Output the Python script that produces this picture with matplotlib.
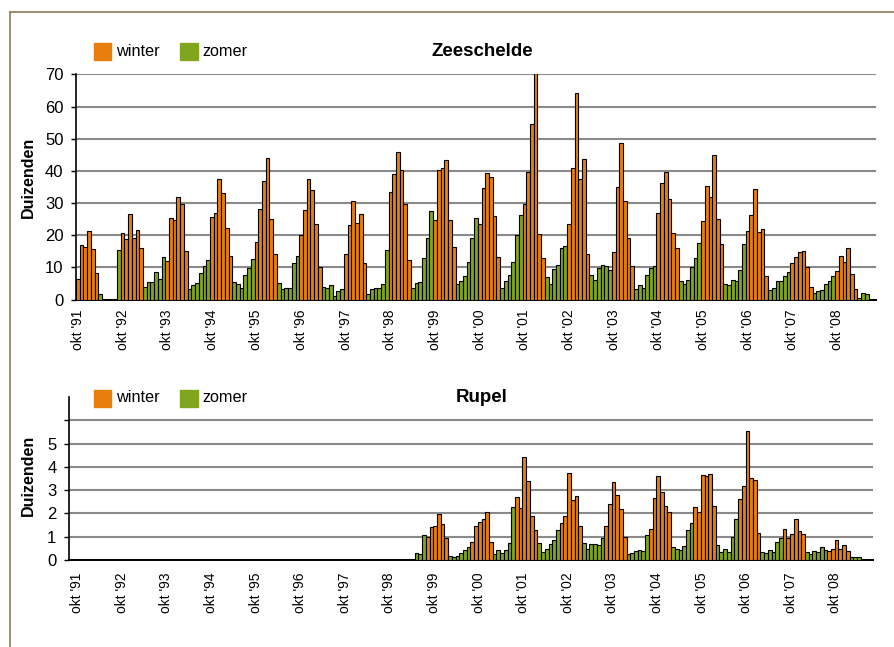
import numpy as np
import matplotlib
matplotlib.use("Agg")
import matplotlib.pyplot as plt
from matplotlib.patches import Rectangle
from matplotlib.lines import Line2D

plt.rcParams['font.family'] = ['Liberation Sans', 'DejaVu Sans']

nan = np.nan

# monthly values (duizenden), one row per season okt -> sep, starting okt '91
zeeschelde = [
    6.5, 17.1, 16.3, 21.2, 15.6, 8.3, 1.7, nan, nan, nan, nan, 15.4,
    20.7, 18.8, 26.6, 19.3, 21.7, 15.9, 4.0, 5.4, 5.6, 8.6, 6.5, 13.1,
    12.1, 25.3, 24.8, 31.8, 29.6, 15.1, 3.2, 4.5, 5.3, 8.4, 10.3, 12.2,
    25.8, 27.0, 37.5, 33.2, 22.3, 13.5, 5.5, 4.8, 3.7, 7.8, 9.7, 12.7,
    17.9, 28.3, 37.0, 44.1, 25.0, 14.2, 5.2, 3.2, 3.7, 3.5, 11.4, 13.4,
    20.0, 27.8, 37.5, 34.2, 23.5, 10.2, 4.0, 3.7, 4.4, 1.0, 2.7, 3.2,
    14.3, 23.1, 30.6, 23.9, 26.6, 11.3, 1.8, 3.2, 3.7, 3.5, 4.7, 15.5,
    33.5, 38.9, 46.0, 40.4, 29.7, 12.4, 3.6, 5.1, 5.5, 13.0, 19.3, 27.4,
    24.8, 40.2, 40.9, 43.5, 24.7, 16.4, 4.8, 5.7, 7.4, 11.8, 19.2, 25.5,
    23.5, 34.8, 39.4, 38.1, 25.9, 13.1, 3.6, 5.8, 7.5, 11.8, 20.1, 26.4,
    29.8, 39.7, 54.5, 72.0, 20.4, 13.0, 7.0, 4.9, 9.6, 10.9, 15.9, 16.7,
    23.4, 40.8, 64.2, 37.5, 43.6, 14.1, 7.6, 6.0, 9.7, 10.6, 10.4, 9.2,
    14.7, 35.0, 48.7, 30.5, 19.1, 10.4, 3.2, 4.6, 3.6, 7.5, 9.9, 10.5,
    26.9, 36.1, 39.7, 31.4, 20.8, 15.9, 5.7, 4.7, 6.0, 10.0, 12.8, 17.7,
    24.4, 35.4, 32.0, 44.8, 25.2, 17.2, 4.8, 4.5, 6.1, 5.7, 9.2, 17.4,
    21.4, 26.2, 34.3, 21.0, 21.8, 7.4, 3.1, 3.6, 5.8, 5.9, 7.2, 8.6,
    11.5, 13.3, 14.7, 15.1, 10.2, 3.9, 1.9, 2.6, 3.1, 4.8, 5.9, 7.4,
    8.9, 13.6, 11.7, 16.0, 8.0, 3.4, 0.6, 2.1, 1.6,
]

# Rupel: no counts before jul '99
rupel_start = 93
rupel = [
    0.29, 0.27, 1.09,
    0.97, 1.41, 1.46, 1.99, 1.53, 0.93, 0.16, 0.13, 0.17, 0.29, 0.41, 0.56,
    0.77, 1.46, 1.63, 1.77, 2.04, 0.76, 0.26, 0.44, 0.29, 0.43, 0.71, 2.26,
    2.70, 2.24, 4.44, 3.39, 1.91, 1.29, 0.74, 0.33, 0.46, 0.70, 0.86, 1.27,
    1.61, 1.90, 3.73, 2.59, 2.73, 1.46, 0.71, 0.47, 0.67, 0.67, 0.64, 0.96,
    1.46, 2.39, 3.34, 2.79, 2.20, 0.99, 0.26, 0.31, 0.37, 0.42, 0.37, 1.09,
    1.34, 2.67, 3.60, 2.94, 2.33, 2.07, 0.57, 0.47, 0.41, 0.60, 1.30, 1.57,
    2.29, 2.06, 3.67, 3.60, 3.69, 2.30, 0.64, 0.36, 0.47, 0.36, 0.97, 1.76,
    2.64, 3.17, 5.53, 3.54, 3.43, 1.17, 0.33, 0.29, 0.43, 0.33, 0.77, 0.94,
    1.33, 0.93, 1.13, 1.77, 1.26, 1.11, 0.33, 0.26, 0.39, 0.36, 0.54, 0.44,
    0.39, 0.47, 0.84, 0.47, 0.66, 0.39, 0.11, 0.11, 0.13,
]

tick_labels = ["okt '%02d" % (y % 100) for y in range(1991, 2009)]
n_months = 215  # okt '91 .. aug '09

c_winter = '#E87F0C'
c_zomer = '#80A51E'

W, H = 895, 647
fig = plt.figure(figsize=(W / 100, H / 100), dpi=100)


def box(l, r, t, b):
    return [l / W, 1 - b / H, (r - l) / W, (b - t) / H]


def season_colors(idx):
    # month 0 = oktober; okt..mrt winter, apr..sep zomer
    return [c_winter if (i % 12) < 6 else c_zomer for i in idx]


def draw(ax, start, vals):
    vals = np.array(vals, dtype=float)
    idx = np.arange(start, start + len(vals))
    ok = ~np.isnan(vals)
    ax.bar(idx[ok], vals[ok], width=1.0, color=season_colors(idx[ok]),
           edgecolor='black', linewidth=0.8, zorder=3)
    ax.set_axisbelow(True)
    ax.grid(axis='y', color='#8a8a8a', linewidth=1.5)
    for s in ['top', 'right']:
        ax.spines[s].set_visible(False)
    ax.spines['left'].set_linewidth(1.2)
    ax.spines['bottom'].set_linewidth(1.4)
    ax.tick_params(axis='x', length=0, pad=7, labelsize=10)
    ax.tick_params(axis='y', length=3.5, width=1, direction='out', pad=5.5, labelsize=12)


# Zeeschelde
ax1 = fig.add_axes(box(76, 876, 74.4, 299.6))
draw(ax1, 0, zeeschelde)
ax1.set_xlim(-0.5, n_months - 0.5)
ax1.set_ylim(0, 70)
ax1.set_yticks(range(0, 71, 10))
ax1.set_xticks(np.arange(0, 205, 12))
ax1.set_xticklabels(tick_labels, rotation=90)

# Rupel
ax2 = fig.add_axes(box(69, 873, 397, 560))
draw(ax2, rupel_start, rupel)
ax2.set_xlim(-0.5, n_months + 0.8)
ax2.set_ylim(0, 7)
ax2.set_yticks(range(0, 7))
ax2.set_yticklabels(['0', '1', '2', '3', '4', '5', ''])
ax2.set_xticks(np.arange(0, 205, 12) + 1.7)
ax2.set_xticklabels(tick_labels, rotation=90)
ax2.tick_params(axis='x', pad=9)

# titles, labels, legends
for name, yc in [('Zeeschelde', 51), ('Rupel', 398)]:
    fig.text(482 / W, 1 - yc / H, name, ha='center', va='center',
             fontsize=13.5, fontweight='bold')
for yc in [177, 475]:
    fig.text(28.5 / W, 1 - yc / H, 'Duizenden', rotation=90, ha='center',
             va='center', fontsize=11.5, fontweight='bold')
for yc in [51, 398]:
    for x0, col, lab in [(94, c_winter, 'winter'), (180, c_zomer, 'zomer')]:
        fig.add_artist(Rectangle((x0 / W, 1 - (yc + 8.5) / H), 17.5 / W, 17 / H,
                                 transform=fig.transFigure, color=col))
        fig.text((x0 + 22) / W, 1 - yc / H, lab, ha='left', va='center', fontsize=11.7)

# outer frame
fig.add_artist(Line2D([10 / W, 1.0], [1 - 12 / H, 1 - 12 / H],
                      transform=fig.transFigure, color='#8C7A58', linewidth=1.2))
fig.add_artist(Line2D([10 / W, 10 / W], [0.0, 1 - 12 / H],
                      transform=fig.transFigure, color='#8C7A58', linewidth=1.2))

fig.savefig('out.png', dpi=100)
